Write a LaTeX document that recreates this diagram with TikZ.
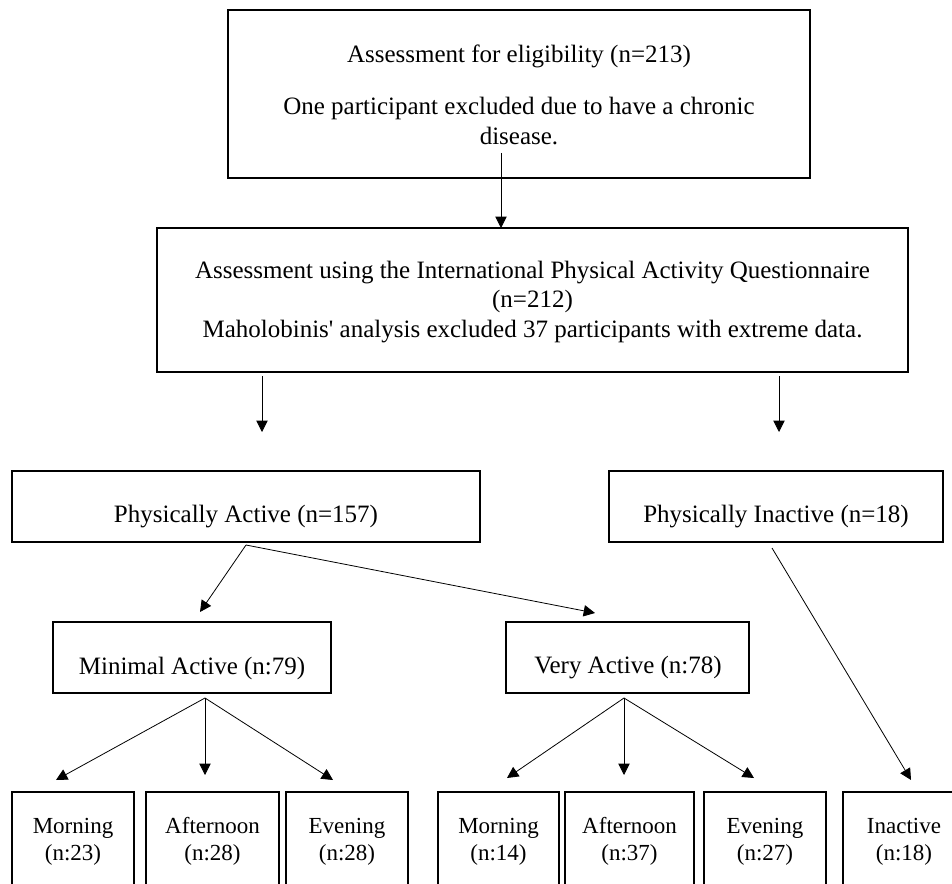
\documentclass[tikz,border=0pt]{standalone}
\usepackage{fontspec}
\setmainfont{Liberation Serif}
\usetikzlibrary{arrows.meta}

\tikzset{
  box/.style={draw, line width=1.4pt, inner sep=0pt},
  txt/.style={inner sep=0pt, align=center, font=\fontsize{18.75}{22}\selectfont},
  smalltxt/.style={inner sep=0pt, align=center, font=\fontsize{17.25}{20.25}\selectfont},
  arr/.style={-{Triangle[length=8.5pt,width=8.5pt]}, line width=0.6pt},
}

\begin{document}
\begin{tikzpicture}[x=0.75pt,y=0.75pt,yscale=-1,xscale=1]
        \useasboundingbox (0,0) rectangle (952,884);
        \clip (0,0) rectangle (952,884);

        %Shape: Rectangle [id:elig]
        \node[box, minimum width=436.5pt, minimum height=126pt] (elig) at (519,94) {};
        %Shape: Rectangle [id:ipaq]
        \node[box, minimum width=563.25pt, minimum height=108pt] (ipaq) at (532.5,300) {};
        %Shape: Rectangle [id:active]
        \node[box, minimum width=351pt, minimum height=53.25pt] (active) at (246,506.5) {};
        %Shape: Rectangle [id:inactive]
        \node[box, minimum width=250.5pt, minimum height=53.25pt] (inactive) at (776,506.5) {};
        %Shape: Rectangle [id:minimal]
        \node[box, minimum width=208.5pt, minimum height=53.25pt] (minimal) at (192,657.5) {};
        %Shape: Rectangle [id:very]
        \node[box, minimum width=182.25pt, minimum height=53.25pt] (very) at (627.5,657.5) {};
        %Shape: Rectangle [id:bottom row]
        \node[box, minimum width=91.5pt, minimum height=72.75pt] (minmorn) at (73,840.5) {};
        \node[box, minimum width=99.75pt, minimum height=72.75pt] (minaft) at (212.5,840.5) {};
        \node[box, minimum width=91.5pt, minimum height=72.75pt] (mineve) at (347,840.5) {};
        \node[box, minimum width=90.75pt, minimum height=72.75pt] (verymorn) at (498.5,840.5) {};
        \node[box, minimum width=96.75pt, minimum height=72.75pt] (veryaft) at (629.5,840.5) {};
        \node[box, minimum width=91.5pt, minimum height=72.75pt] (veryeve) at (765,840.5) {};
        \node[box, minimum width=91.5pt, minimum height=72.75pt] (inact) at (904,840.5) {};

        % Text Node
        \node[txt] (eligtxt) at (519,95) {Assessment for eligibility (n=213)\\[17pt]One participant excluded due to have a chronic\\disease.};
        % Text Node
        \node[txt] (ipaqtxt) at (532.5,302) {Assessment using the International Physical Activity Questionnaire\\(n=212)\\Maholobinis\textquotesingle{} analysis excluded 37 participants with extreme data.};
        % Text Node
        \node[txt] (activetxt) at (246,517) {Physically Active (n=157)};
        % Text Node
        \node[txt] (inactivetxt) at (776,517) {Physically Inactive (n=18)};
        % Text Node
        \node[txt] (minimaltxt) at (192,668) {Minimal Active (n:79)};
        % Text Node
        \node[txt] (verytxt) at (628,668) {Very Active (n:78)};
        % Text Node
        \node[smalltxt] (minmorntxt) at (73,841.5) {Morning\\(n:23)};
        \node[smalltxt] (minafttxt) at (212.5,841.5) {Afternoon\\(n:28)};
        \node[smalltxt] (minevetxt) at (347,841.5) {Evening\\(n:28)};
        \node[smalltxt] (verymorntxt) at (498.5,841.5) {Morning\\(n:14)};
        \node[smalltxt] (veryafttxt) at (629.5,841.5) {Afternoon\\(n:37)};
        \node[smalltxt] (veryevetxt) at (765,841.5) {Evening\\(n:27)};
        \node[smalltxt] (inacttxt) at (904,841.5) {Inactive\\(n:18)};

        % Connector ends
        \coordinate (eligout) at (501,153);
        \coordinate (ipaqin) at (501,228);
        \coordinate (ipaqoutL) at (262,376);
        \coordinate (activein) at (262,432);
        \coordinate (ipaqoutR) at (779,376);
        \coordinate (inactivein) at (779,432);
        \coordinate (activeout) at (246,545);
        \coordinate (minimalin) at (200,612);
        \coordinate (veryin) at (595,613);
        \coordinate (inactiveout) at (772,548);
        \coordinate (inactin) at (911,780);
        \coordinate (minimalout) at (205,698);
        \coordinate (minmornin) at (56,780);
        \coordinate (minaftin) at (205,775);
        \coordinate (minevein) at (333,780);
        \coordinate (veryout) at (624,698);
        \coordinate (verymornin) at (507,778);
        \coordinate (veryaftin) at (624,775);
        \coordinate (veryevein) at (754,778);

        % Connectors
        \draw[arr] (eligout) -- (ipaqin);
        \draw[arr] (ipaqoutL) -- (activein);
        \draw[arr] (ipaqoutR) -- (inactivein);
        \draw[arr] (activeout) -- (minimalin);
        \draw[arr] (activeout) -- (veryin);
        \draw[arr] (inactiveout) -- (inactin);
        \draw[arr] (minimalout) -- (minmornin);
        \draw[arr] (minimalout) -- (minaftin);
        \draw[arr] (minimalout) -- (minevein);
        \draw[arr] (veryout) -- (verymornin);
        \draw[arr] (veryout) -- (veryaftin);
        \draw[arr] (veryout) -- (veryevein);

    \end{tikzpicture}
\end{document}
